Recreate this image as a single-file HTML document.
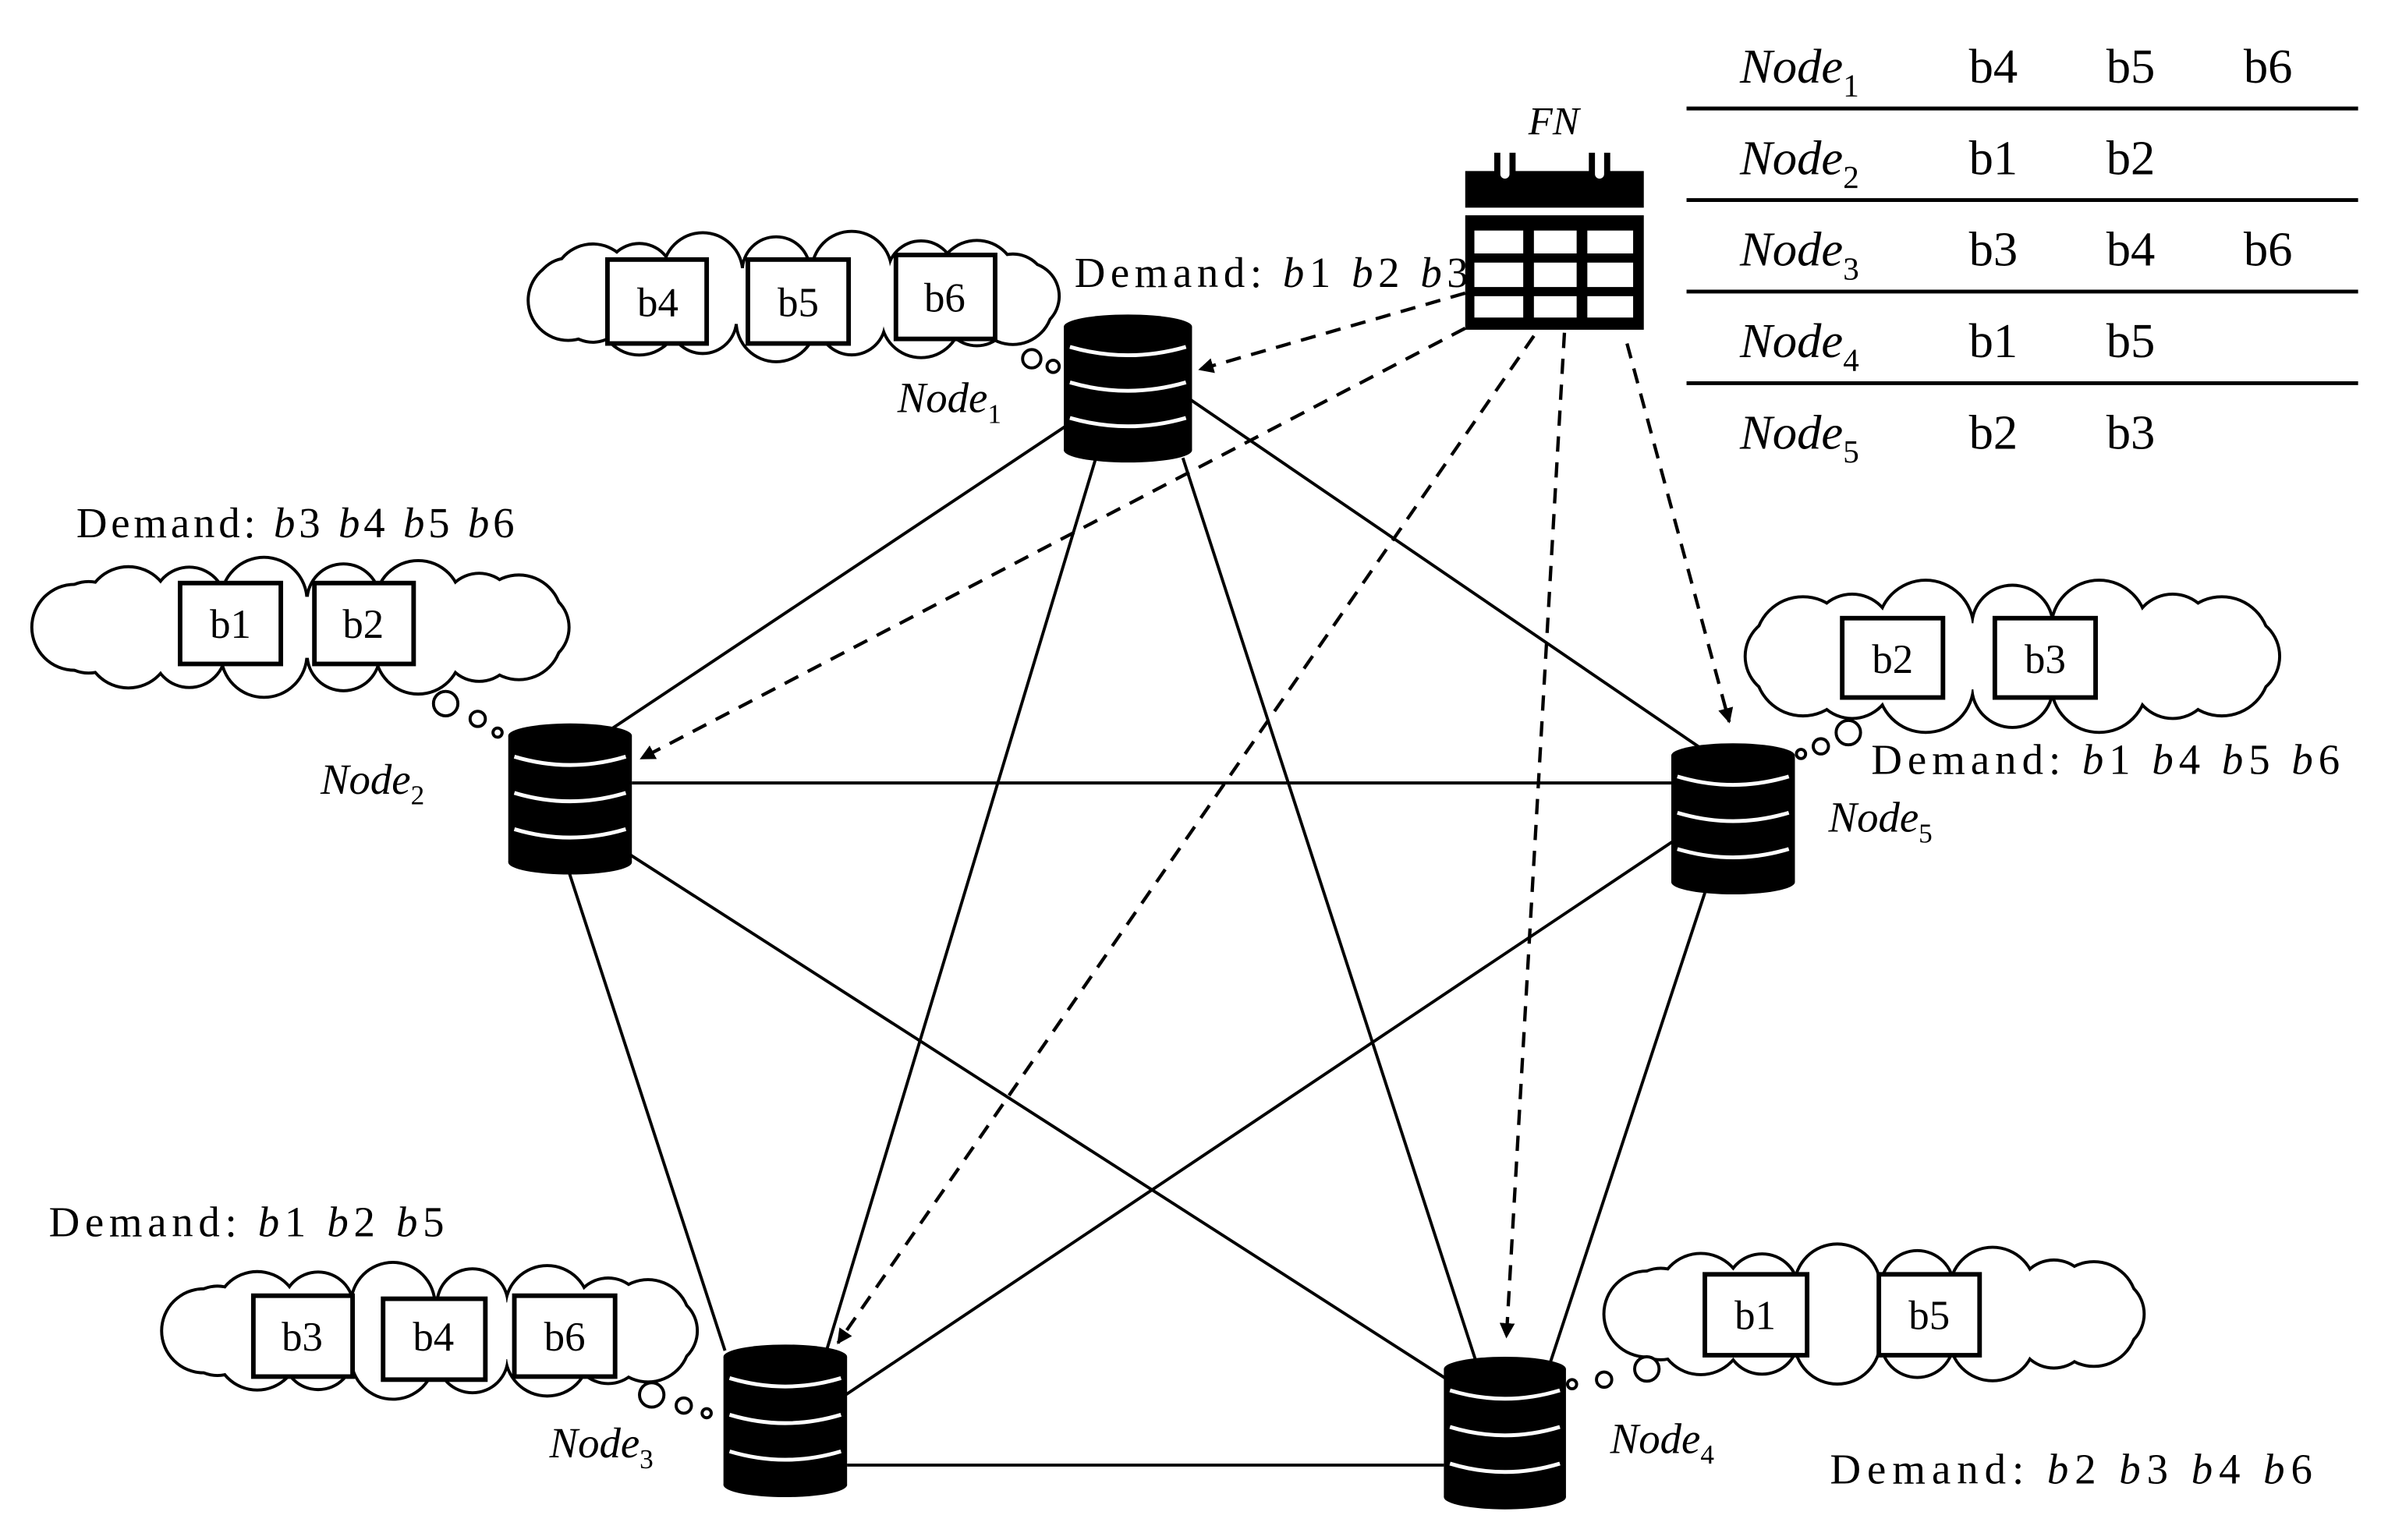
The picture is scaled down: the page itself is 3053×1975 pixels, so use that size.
<!DOCTYPE html>
<html><head><meta charset="utf-8"><style>
html,body{margin:0;padding:0;background:#fff}
svg{display:block}
text{font-family:"Liberation Serif",serif;fill:#000}
.it{font-style:italic}
.sb{font-style:normal}
</style></head><body>
<svg id="s" width="3053" height="1975" viewBox="0 0 1560 1009" xmlns="http://www.w3.org/2000/svg">
<defs>
<marker id="ah" markerWidth="10" markerHeight="10" refX="9" refY="5" orient="auto" markerUnits="userSpaceOnUse">
<path d="M0,0 L10,5 L0,10 z" fill="#000"/></marker>
</defs>
<g id="edges" stroke="#000" stroke-width="2" fill="none">
<line x1="715" y1="268" x2="400" y2="478"/>
<line x1="770" y1="255" x2="1117" y2="492"/>
<line x1="718" y1="300" x2="540" y2="890"/>
<line x1="775" y1="300" x2="968" y2="895"/>
<line x1="414" y1="513" x2="1095" y2="513"/>
<line x1="373" y1="572" x2="475" y2="885"/>
<line x1="405" y1="555" x2="950" y2="905"/>
<line x1="1098" y1="550" x2="548" y2="918"/>
<line x1="1117" y1="585" x2="1015" y2="895"/>
<line x1="555" y1="960" x2="946" y2="960"/>
</g>
<g stroke="#000" stroke-width="2.2" fill="none" stroke-dasharray="10,7" marker-end="url(#ah)">
<line x1="960" y1="192" x2="786" y2="242"/>
<line x1="960" y1="215" x2="420" y2="497"/>
<line x1="1005" y1="220" x2="549" y2="880"/>
<line x1="1025" y1="218" x2="987" y2="876"/>
<line x1="1066" y1="225" x2="1133" y2="473"/>
</g>
<g id="dyn"></g>
<!-- calendar -->
<rect x="960" y="112" width="117" height="24" fill="#000"/>
<path d="M981,100 v14 a5,5 0 0 0 10,0 v-14" fill="#fff" stroke="#000" stroke-width="4"/>
<path d="M1043,100 v14 a5,5 0 0 0 10,0 v-14" fill="#fff" stroke="#000" stroke-width="4"/>
<rect x="960" y="141" width="117" height="75" fill="#000"/>
<g fill="#fff">
<rect x="966" y="151" width="32" height="15"/><rect x="1005" y="151" width="28" height="15"/><rect x="1040" y="151" width="30" height="15"/>
<rect x="966" y="172" width="32" height="16"/><rect x="1005" y="172" width="28" height="16"/><rect x="1040" y="172" width="30" height="16"/>
<rect x="966" y="194" width="32" height="14"/><rect x="1005" y="194" width="28" height="14"/><rect x="1040" y="194" width="30" height="14"/>
</g>
<text x="1018" y="88" font-size="26" text-anchor="middle" class="it">FN</text>
<!-- table -->
<g stroke="#000" stroke-width="2.5">
<line x1="1105" y1="71" x2="1545" y2="71"/>
<line x1="1105" y1="131" x2="1545" y2="131"/>
<line x1="1105" y1="191" x2="1545" y2="191"/>
<line x1="1105" y1="251" x2="1545" y2="251"/>
</g>
<g font-size="32">
<text x="1140" y="54" class="it">Node<tspan class="sb" font-size="21" dy="9">1</tspan></text>
<text x="1290" y="54">b4</text><text x="1380" y="54">b5</text><text x="1470" y="54">b6</text>
<text x="1140" y="114" class="it">Node<tspan class="sb" font-size="21" dy="9">2</tspan></text>
<text x="1290" y="114">b1</text><text x="1380" y="114">b2</text>
<text x="1140" y="174" class="it">Node<tspan class="sb" font-size="21" dy="9">3</tspan></text>
<text x="1290" y="174">b3</text><text x="1380" y="174">b4</text><text x="1470" y="174">b6</text>
<text x="1140" y="234" class="it">Node<tspan class="sb" font-size="21" dy="9">4</tspan></text>
<text x="1290" y="234">b1</text><text x="1380" y="234">b5</text>
<text x="1140" y="294" class="it">Node<tspan class="sb" font-size="21" dy="9">5</tspan></text>
<text x="1290" y="294">b2</text><text x="1380" y="294">b3</text>
</g>
<!-- labels -->
<g font-size="28">
<text x="704" y="188" textLength="258" lengthAdjust="spacing">Demand: <tspan class="it">b</tspan>1 <tspan class="it">b</tspan>2 <tspan class="it">b</tspan>3</text>
<text x="50" y="352" textLength="287" lengthAdjust="spacing">Demand: <tspan class="it">b</tspan>3 <tspan class="it">b</tspan>4 <tspan class="it">b</tspan>5 <tspan class="it">b</tspan>6</text>
<text x="1226" y="507" textLength="307" lengthAdjust="spacing">Demand: <tspan class="it">b</tspan>1 <tspan class="it">b</tspan>4 <tspan class="it">b</tspan>5 <tspan class="it">b</tspan>6</text>
<text x="32" y="810" textLength="259" lengthAdjust="spacing">Demand: <tspan class="it">b</tspan>1 <tspan class="it">b</tspan>2 <tspan class="it">b</tspan>5</text>
<text x="1199" y="972" textLength="316" lengthAdjust="spacing">Demand: <tspan class="it">b</tspan>2 <tspan class="it">b</tspan>3 <tspan class="it">b</tspan>4 <tspan class="it">b</tspan>6</text>
<text x="588" y="270" class="it">Node<tspan class="sb" font-size="18" dy="7">1</tspan></text>
<text x="210" y="520" class="it">Node<tspan class="sb" font-size="18" dy="7">2</tspan></text>
<text x="360" y="955" class="it">Node<tspan class="sb" font-size="18" dy="7">3</tspan></text>
<text x="1055" y="952" class="it">Node<tspan class="sb" font-size="18" dy="7">4</tspan></text>
<text x="1198" y="545" class="it">Node<tspan class="sb" font-size="18" dy="7">5</tspan></text>
</g>
<g id="bx" font-size="27" text-anchor="middle">
<text x="431" y="207">b4</text><text x="523" y="207">b5</text><text x="619" y="204">b6</text>
<text x="151" y="418">b1</text><text x="238" y="418">b2</text>
<text x="1240" y="441">b2</text><text x="1340" y="441">b3</text>
<text x="198" y="885">b3</text><text x="284" y="885">b4</text><text x="370" y="885">b6</text>
<text x="1150" y="871">b1</text><text x="1264" y="871">b5</text>
</g>
</svg>
<script>
var NS="http://www.w3.org/2000/svg";
var dyn=document.getElementById('dyn');
function el(t,a,p){var e=document.createElementNS(NS,t);for(var k in a)e.setAttribute(k,a[k]);(p||dyn).appendChild(e);return e;}
function cloud(x0,y0,x1,y1){
 var W=x1-x0,H=y1-y0,cx=(x0+x1)/2,cy=(y0+y1)/2;
 var r=H*0.3;
 var rx=W/2-r, ry=H/2-r;
 var per=2*Math.PI*Math.sqrt((rx*rx+ry*ry)/2);
 var n=Math.ceil(per/(1.45*r));
 var cs=[];
 for(var i=0;i<n;i++){var a=2*Math.PI*i/n;
  var rr=r*(i%2?1.08:0.92);
  cs.push([cx+rx*Math.cos(a),cy+ry*Math.sin(a),rr]);}
 var g=el('g',{});
 el('ellipse',{cx:cx,cy:cy,rx:rx+2,ry:ry+2,fill:'#000'},g);
 cs.forEach(function(c){el('circle',{cx:c[0],cy:c[1],r:c[2],fill:'#000'},g);});
 cs.forEach(function(c){el('circle',{cx:c[0],cy:c[1],r:c[2]-2,fill:'#fff'},g);});
 el('ellipse',{cx:cx,cy:cy,rx:rx+2,ry:ry+2,fill:'#fff'},g);
}
function bubbles(l){l.forEach(function(b){el('circle',{cx:b[0],cy:b[1],r:b[2],fill:'#fff',stroke:'#000','stroke-width':2});});}
function box(x0,y0,x1,y1){el('rect',{x:x0,y:y0,width:x1-x0,height:y1-y0,fill:'#fff',stroke:'#000','stroke-width':3});}
function cyl(x0,y0,x1,y1){
 var w=x1-x0,ry=8,cx=(x0+x1)/2;
 el('rect',{x:x0,y:y0+ry,width:w,height:y1-y0-2*ry,fill:'#000'});
 el('ellipse',{cx:cx,cy:y0+ry,rx:w/2,ry:ry,fill:'#000'});
 el('ellipse',{cx:cx,cy:y1-ry,rx:w/2,ry:ry,fill:'#000'});
 var h=y1-y0;
 [0.26,0.5,0.74].forEach(function(f){var y=y0+h*f;
  el('path',{d:'M'+(x0+4)+','+(y-4)+' Q'+cx+','+(y+7)+' '+(x1-4)+','+(y-4),stroke:'#fff','stroke-width':2.5,fill:'none'});});
}
cloud(345,152,697,236);bubbles([[676,235,6],[690,240,4]]);
cloud(22,366,376,456);bubbles([[292,461,8],[313,471,5],[326,480,3]]);
cloud(1140,380,1497,480);bubbles([[1211,480,8],[1193,489,5],[1180,494,3]]);
cloud(107,828,460,916);bubbles([[427,914,8],[448,921,5],[463,926,3]]);
cloud(1052,816,1408,906);bubbles([[1079,897,8],[1051,904,5],[1030,907,3]]);
box(398,170,463,225);box(490,170,556,225);box(587,167,652,222);
box(118,382,184,435);box(206,382,271,435);
box(1207,405,1273,457);box(1307,405,1373,457);
box(166,849,231,902);box(251,851,318,904);box(337,849,403,902);
box(1117,835,1184,888);box(1231,835,1297,888);
cyl(697,206,781,303);cyl(333,474,414,573);cyl(474,881,555,981);cyl(946,889,1026,989);cyl(1095,487,1176,586);
dyn.parentNode.appendChild(document.getElementById('bx'));
</script>
</body></html>
